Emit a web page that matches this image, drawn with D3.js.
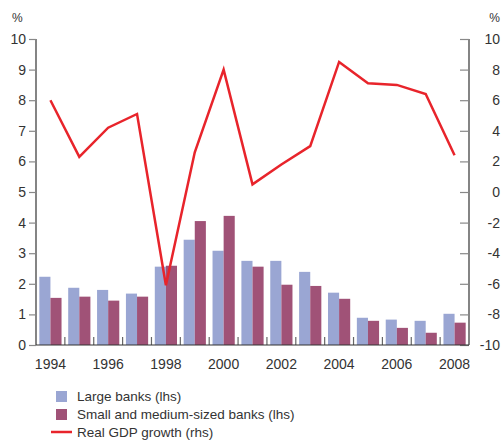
<!DOCTYPE html>
<html><head><meta charset="utf-8">
<script src="https://cdn.jsdelivr.net/npm/d3@7"></script>
<style>
body{margin:0;background:#fff;}
text{font-family:"Liberation Sans",Arial,Helvetica,sans-serif;fill:#333;}
</style></head>
<body><svg id="c" width="504" height="441"></svg>
<script>
const years = [1994,1995,1996,1997,1998,1999,2000,2001,2002,2003,2004,2005,2006,2007,2008];
const largeBanks = [2.23,1.87,1.80,1.68,2.56,3.44,3.08,2.75,2.75,2.39,1.71,0.89,0.83,0.79,1.02];
const smallBanks = [1.54,1.58,1.45,1.58,2.59,4.05,4.22,2.56,1.97,1.93,1.51,0.79,0.56,0.40,0.73];
const gdpGrowth = [6.0,2.3,4.2,5.1,-6.1,2.6,8.0,0.5,1.8,3.0,8.5,7.1,7.0,6.4,2.4];
const leftTicks = [0,1,2,3,4,5,6,7,8,9,10];
const rightTicks = [-10,-8,-6,-4,-2,0,2,4,6,8,10];
const yearLabels = [1994,1996,1998,2000,2002,2004,2006,2008];
const seriesNames = ["Large banks (lhs)","Small and medium-sized banks (lhs)","Real GDP growth (rhs)"];
const colors = {large:"#9aa6d3", small:"#a05277", gdp:"#e8242b"};

const svg = d3.select("#c");
const L = 36, R = 469, T = 39, B = 345;
const x = d3.scaleBand().domain(years).range([L,R]).paddingInner(0).paddingOuter(0);
const xs = d3.scaleBand().domain(["l","s"]).range([0,x.bandwidth()]).paddingOuter(0.3).paddingInner(0);
const yL = d3.scaleLinear().domain([0,10]).range([B,T]);
const yR = d3.scaleLinear().domain([-10,10]).range([B,T]);

// bars
const g = svg.append("g");
years.forEach((yr,i)=>{
  g.append("rect").attr("x",x(yr)+xs("l")).attr("width",xs.bandwidth())
   .attr("y",yL(largeBanks[i])).attr("height",yL(0)-yL(largeBanks[i])).attr("fill",colors.large);
  g.append("rect").attr("x",x(yr)+xs("s")).attr("width",xs.bandwidth())
   .attr("y",yL(smallBanks[i])).attr("height",yL(0)-yL(smallBanks[i])).attr("fill",colors.small);
});

// x separators
years.slice(1).forEach(yr=>{
  svg.append("line").attr("x1",x(yr)).attr("x2",x(yr)).attr("y1",B-8).attr("y2",B)
    .attr("stroke","#666").attr("stroke-width",1.2);
});

// left axis
const la = svg.append("g").attr("transform",`translate(${L},0)`)
  .call(d3.axisLeft(yL).tickValues(leftTicks).tickSize(7).tickPadding(3).tickFormat(d=>String(d)));
la.select(".domain").attr("stroke","#333").attr("stroke-width",1.2).attr("d",`M0,${T}V${B}`);
la.selectAll(".tick line").attr("stroke","#888").attr("stroke-width",1.2);
la.selectAll("text").style("font-size","14px").attr("fill","#333");

// right axis (ticks inward, labels right-aligned at 500)
const ra = svg.append("g").attr("transform",`translate(${R},0)`)
  .call(d3.axisRight(yR).tickValues(rightTicks).tickSize(0).tickPadding(0).tickFormat(d=>String(d)));
ra.select(".domain").attr("stroke","#333").attr("stroke-width",1.2).attr("d",`M0,${T}V${B}`);
ra.selectAll(".tick").append("line").attr("x1",-9).attr("x2",0).attr("stroke","#888").attr("stroke-width",1.2);
ra.selectAll("text").attr("x",31).attr("text-anchor","end").style("font-size","14px").attr("fill","#333");

// bottom axis line
svg.append("line").attr("x1",L).attr("x2",R).attr("y1",B).attr("y2",B).attr("stroke","#333").attr("stroke-width",1.2);

// year labels
yearLabels.forEach(yr=>{
  svg.append("text").attr("x",x(yr)+x.bandwidth()/2).attr("y",369).attr("text-anchor","middle")
    .style("font-size","14px").text(yr);
});

// % labels
svg.append("text").attr("x",12).attr("y",22).style("font-size","12px").text("%");
svg.append("text").attr("x",500).attr("y",22).attr("text-anchor","end").style("font-size","12px").text("%");

// GDP line
const line = d3.line().x((d,i)=>x(years[i])+x.bandwidth()/2).y(d=>yR(d));
svg.append("path").datum(gdpGrowth).attr("d",line).attr("fill","none")
  .attr("stroke",colors.gdp).attr("stroke-width",2.5).attr("stroke-linejoin","miter");

// legend
const lg = svg.append("g");
lg.append("rect").attr("x",56).attr("y",391).attr("width",11).attr("height",11).attr("fill",colors.large);
lg.append("rect").attr("x",56).attr("y",409).attr("width",11).attr("height",11).attr("fill",colors.small);
lg.append("line").attr("x1",51).attr("x2",72).attr("y1",432).attr("y2",432).attr("stroke",colors.gdp).attr("stroke-width",2.5);
[401,419,437].forEach((yy,i)=>{
  lg.append("text").attr("x",77).attr("y",yy).style("font-size","13.5px").text(seriesNames[i]);
});
</script></body></html>
